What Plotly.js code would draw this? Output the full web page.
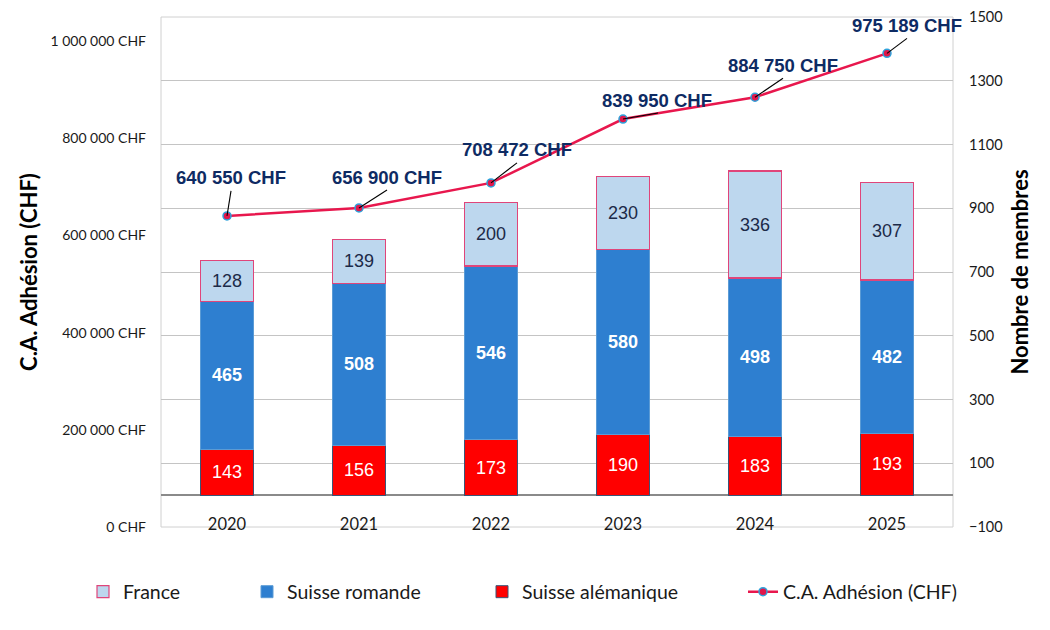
<!DOCTYPE html>
<html>
<head>
<meta charset="utf-8">
<script src="https://cdn.plot.ly/plotly-3.0.1.min.js"></script>
<style>
  html, body { margin: 0; padding: 0; background: #fff; }
  #chart { width: 1050px; height: 630px; }
</style>
</head>
<body>
<div id="chart"></div>
<script>
const years = ["2020", "2021", "2022", "2023", "2024", "2025"];
const suisseAlemanique = [143, 156, 173, 190, 183, 193];
const suisseRomande = [465, 508, 546, 580, 498, 482];
const france = [128, 139, 200, 230, 336, 307];
const caAdhesion = [640550, 656900, 708472, 839950, 884750, 975189];

// placement of each CHF label (centre) and its leader line end, px from the point, y up
const labelShiftX = [4, 28, 26, 34, 28, 20];
const labelShiftY = [38, 30, 33, 19, 32, 28];
const leaderX = [4, 28, 26, 35, 28, 20];
const leaderY = [25, 18, 20, 6, 19, 15];

const calibriLike = "Lato, 'Open Sans', sans-serif";
const arialLike = "'Liberation Sans', Arial, sans-serif";

function chf(v) {
  return String(v).replace(/\B(?=(\d{3})+(?!\d))/g, " ") + " CHF";
}

const traceAlem = {
  x: years,
  y: suisseAlemanique,
  type: "bar",
  name: "Suisse alémanique",
  legend: "legend3",
  width: 0.4,
  marker: { color: "#ff0000", line: { color: "#3a5577", width: 1 } },
  text: suisseAlemanique.map(String),
  textposition: "inside",
  insidetextanchor: "middle",
  textangle: 0,
  textfont: { family: arialLike, size: 18, color: "#ffffff" },
  hoverinfo: "skip",
};

const traceRom = {
  x: years,
  y: suisseRomande,
  type: "bar",
  name: "Suisse romande",
  legend: "legend2",
  width: 0.4,
  marker: { color: "#2e7fd0", line: { color: "#5b9bd5", width: 1 } },
  text: suisseRomande.map(String),
  textposition: "inside",
  insidetextanchor: "middle",
  textangle: 0,
  textfont: { family: arialLike, size: 18, color: "#ffffff", weight: "bold" },
  hoverinfo: "skip",
};

const traceFr = {
  x: years,
  y: france,
  type: "bar",
  name: "France",
  legend: "legend",
  width: 0.4,
  marker: { color: "#bdd7ee", line: { color: "#e0457a", width: 1.2 } },
  text: france.map(String),
  textposition: "inside",
  insidetextanchor: "middle",
  textangle: 0,
  textfont: { family: arialLike, size: 18, color: "#1c2a48" },
  hoverinfo: "skip",
};

const traceCA = {
  x: years,
  y: caAdhesion,
  yaxis: "y2",
  type: "scatter",
  mode: "lines+markers",
  name: "C.A. Adhésion (CHF)",
  legend: "legend4",
  line: { color: "#e8174d", width: 2.5 },
  marker: { size: 8, color: "#e0174b", line: { color: "#2ea3dc", width: 1.5 } },
  hoverinfo: "skip",
};

// category index i is the position of years[i] on the x axis
const annotations = years.map((yr, i) => ({
  x: i,
  y: caAdhesion[i],
  xref: "x",
  yref: "y2",
  text: "<b>" + chf(caAdhesion[i]) + "</b>",
  showarrow: false,
  xanchor: "center",
  yanchor: "middle",
  xshift: labelShiftX[i],
  yshift: labelShiftY[i],
  font: { family: arialLike, size: 18.5, color: "#0e2b63" },
}));

const leaders = years.map((yr, i) => ({
  type: "line",
  xref: "x",
  yref: "y2",
  xsizemode: "pixel",
  ysizemode: "pixel",
  xanchor: i,
  yanchor: caAdhesion[i],
  x0: 0,
  y0: 0,
  x1: leaderX[i],
  y1: leaderY[i],
  line: { color: "#000000", width: 1.1 },
  layer: "above",
}));

function legendAt(px) {
  return {
    orientation: "h",
    xref: "container",
    yref: "container",
    x: px / 1050,
    xanchor: "left",
    y: 1 - 592 / 630,
    yanchor: "middle",
    bgcolor: "rgba(0,0,0,0)",
    font: { family: calibriLike, size: 19.5, color: "#1a1a1a" },
  };
}

const layout = {
  width: 1050,
  height: 630,
  margin: { l: 161, r: 97, t: 17, b: 103 },
  paper_bgcolor: "#ffffff",
  plot_bgcolor: "#ffffff",
  barmode: "stack",
  separators: ". ",
  showlegend: true,
  xaxis: {
    type: "category",
    range: [-0.5, years.length - 0.5],
    anchor: "free",
    position: 0.0625,
    showline: false,
    showgrid: false,
    zeroline: false,
    ticks: "outside",
    ticklen: 14,
    tickcolor: "rgba(0,0,0,0)",
    tickfont: { family: calibriLike, size: 16.5, color: "#1a1a1a" },
  },
  yaxis: {
    side: "right",
    range: [-100, 1500],
    tick0: -100,
    dtick: 200,
    showgrid: true,
    gridcolor: "#c4c4c4",
    gridwidth: 1,
    zeroline: true,
    zerolinecolor: "#8a8a8a",
    zerolinewidth: 1.5,
    showline: false,
    ticks: "",
    ticklabelstandoff: 15,
    tickfont: { family: calibriLike, size: 14.5, color: "#1a1a1a" },
    title: {
      text: "Nombre de membres",
      standoff: 10,
      font: { family: calibriLike, size: 22, color: "#000000", weight: "bold" },
    },
  },
  yaxis2: {
    overlaying: "y",
    side: "left",
    range: [0, 1050000],
    tick0: 0,
    dtick: 200000,
    tickformat: ",d",
    ticksuffix: " CHF",
    showgrid: false,
    zeroline: false,
    showline: false,
    ticks: "",
    ticklabelstandoff: 14,
    tickfont: { family: calibriLike, size: 14, color: "#1a1a1a" },
    title: {
      text: "C.A. Adhésion (CHF)",
      standoff: 6,
      font: { family: calibriLike, size: 22, color: "#000000", weight: "bold" },
    },
  },
  legend: legendAt(83),
  legend2: legendAt(247),
  legend3: legendAt(482),
  legend4: legendAt(743),
  shapes: [
    {
      type: "rect",
      xref: "paper",
      yref: "paper",
      x0: 0,
      x1: 1,
      y0: 0,
      y1: 1,
      line: { color: "#d0d0d0", width: 1 },
      layer: "below",
    },
  ].concat(leaders),
  annotations: annotations,
};

Plotly.newPlot("chart", [traceAlem, traceRom, traceFr, traceCA], layout, {
  displayModeBar: false,
  staticPlot: true,
});
</script>
</body>
</html>
